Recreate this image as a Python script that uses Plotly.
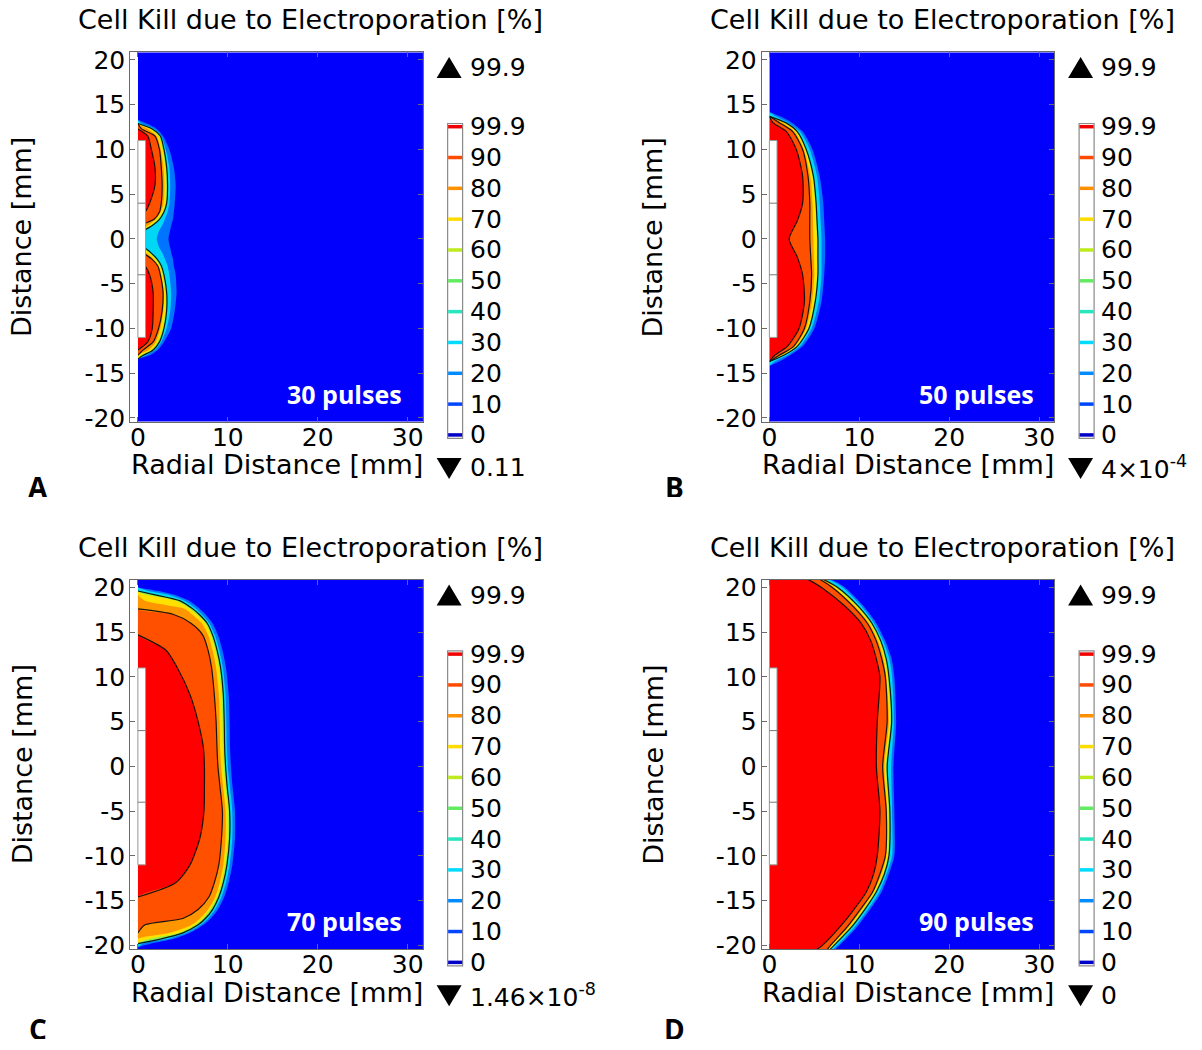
import plotly.graph_objects as go

W, H = 1202, 1050

# ---------------- data ----------------
LEVELS = [0, 10, 20, 30, 40, 50, 60, 70, 80, 90, 99.9]
LEVEL_LABELS = ["0", "10", "20", "30", "40", "50", "60", "70", "80", "90", "99.9"]
X_TICKS = [0, 10, 20, 30]
Y_TICKS = [-20, -15, -10, -5, 0, 5, 10, 15, 20]
Y_TICK_TEXT = ["-20", "-15", "-10", "-5", "0", "5", "10", "15", "20"]

PANEL_LETTERS = ["A", "B", "C", "D"]
PULSES = ["30 pulses", "50 pulses", "70 pulses", "90 pulses"]
MAX_LABELS = ["99.9", "99.9", "99.9", "99.9"]
MIN_LABELS = ["0.11", "4×10<sup>-4</sup>", "1.46×10<sup>-8</sup>", "0"]
TITLE = "Cell Kill due to Electroporation [%]"
X_TITLE = "Radial Distance [mm]"
Y_TITLE = "Distance [mm]"

ELECTRODE_R = 0.85      # mm
ELECTRODE_HALF = 11.0   # mm
ELECTRODE_JOINTS = [-4.0, 4.0]

# contour boundaries: radial position (mm) of each level vs axial distance z (mm)
A_z = [-13.4, -13.0, -12.4, -11.5, -10.0, -8.0, -6.0, -4.0, -3.0, -2.2, -1.5, -1.0, 0.0,
       1.0, 1.5, 2.2, 3.0, 4.0, 6.0, 8.0, 10.0, 11.5, 12.3, 12.9, 13.3]
A_r10 = [0.0, 1.3, 2.2, 2.9, 3.7, 4.1, 4.3, 4.2, 4.0, 3.9, 3.7, 3.6, 3.4,
         3.6, 3.7, 3.9, 4.0, 4.1, 4.2, 4.0, 3.5, 2.8, 2.1, 1.0, 0.0]
A_r30 = [0.0, 0.9, 1.9, 2.6, 3.2, 3.6, 3.7, 3.5, 3.3, 3.0, 2.7, 2.4, 2.1,
         2.4, 2.7, 3.0, 3.3, 3.5, 3.6, 3.5, 3.1, 2.6, 1.8, 0.4, 0.0]
A_r50 = [0.0, 0.6, 1.7, 2.4, 2.9, 3.2, 3.2, 2.9, 2.6, 2.1, 1.4, 0.8, 0.0,
         0.8, 1.6, 2.4, 2.9, 3.2, 3.3, 3.2, 2.9, 2.5, 1.6, 0.0, 0.0]
A_r70 = [0.0, 0.3, 1.5, 2.2, 2.75, 3.05, 3.05, 2.75, 2.45, 1.9, 1.2, 0.6, 0.0,
         0.6, 1.4, 2.2, 2.75, 3.05, 3.15, 3.05, 2.75, 2.3, 1.4, 0.0, 0.0]
A_r80 = [0.0, 0.0, 1.2, 2.0, 2.5, 2.85, 2.9, 2.6, 2.3, 1.7, 0.9, 0.3, 0.0,
         0.3, 1.1, 2.0, 2.55, 2.85, 2.95, 2.85, 2.55, 2.1, 1.1, 0.0, 0.0]
A_r90 = [0.0, 0.0, 0.6, 1.7, 2.3, 2.7, 2.8, 2.5, 2.2, 1.5, 0.5, 0.0, 0.0,
         0.0, 0.3, 1.8, 2.4, 2.6, 2.7, 2.6, 2.4, 1.9, 0.4, 0.0, 0.0]
A_r999 = [0.0, 0.0, 0.0, 1.1, 1.6, 1.7, 1.7, 1.3, 0.8, 0.0, 0.0, 0.0, 0.0,
          0.0, 0.0, 0.0, 0.8, 1.3, 1.9, 1.9, 1.5, 1.1, 0.0, 0.0, 0.0]

B_z = [-14.2, -13.7, -13.0, -12.0, -10.0, -7.0, -4.0, -2.0, 0.0, 2.0, 4.0, 7.0, 10.0, 12.0, 13.0, 13.7, 14.2]
B_r10 = [0.0, 1.1, 2.3, 3.7, 5.0, 5.8, 6.1, 6.2, 6.2, 6.1, 6.0, 5.6, 4.8, 3.7, 2.5, 1.2, 0.0]
B_r30 = [0.0, 0.6, 2.0, 3.4, 4.7, 5.5, 5.8, 5.8, 5.8, 5.7, 5.6, 5.3, 4.5, 3.4, 2.1, 0.7, 0.0]
B_r50 = [0.0, 0.0, 1.6, 3.1, 4.4, 5.1, 5.4, 5.4, 5.4, 5.3, 5.2, 4.9, 4.1, 3.1, 1.8, 0.0, 0.0]
B_r70 = [0.0, 0.0, 1.5, 3.0, 4.3, 5.0, 5.3, 5.3, 5.3, 5.2, 5.1, 4.8, 4.0, 3.0, 1.7, 0.0, 0.0]
B_r80 = [0.0, 0.0, 1.3, 2.85, 4.1, 4.75, 5.0, 4.95, 4.9, 4.85, 4.8, 4.55, 3.85, 2.8, 1.4, 0.0, 0.0]
B_r90 = [0.0, 0.0, 1.1, 2.7, 3.9, 4.5, 4.7, 4.6, 4.5, 4.5, 4.5, 4.3, 3.7, 2.6, 1.1, 0.0, 0.0]
B_r999 = [0.0, 0.0, 0.6, 2.0, 3.3, 3.9, 3.7, 3.1, 2.2, 3.1, 3.7, 3.7, 3.0, 1.9, 0.4, 0.0, 0.0]

C_z = [-20.2, -19.8, -19.3, -18.6, -17.7, -17.0, -16.0, -14.6, -13.0, -11.0, -8.0, -5.0, -2.0, 0.0,
       2.0, 5.0, 8.0, 11.0, 13.0, 14.7, 16.0, 17.0, 17.6, 18.5, 19.2, 19.6, 20.0]
C_r10 = [0.0, 1.5, 3.9, 5.8, 7.3, 8.1, 8.9, 9.6, 10.1, 10.5, 10.8, 10.8, 10.5, 10.35,
         10.25, 10.2, 10.1, 9.8, 9.4, 8.9, 8.3, 7.5, 6.9, 5.7, 4.0, 2.3, 0.0]
C_r30 = [0.0, 0.6, 3.3, 5.4, 7.0, 7.8, 8.6, 9.3, 9.8, 10.2, 10.5, 10.5, 10.2, 10.0,
         9.9, 9.85, 9.75, 9.45, 9.05, 8.55, 7.95, 7.1, 6.5, 5.2, 3.3, 1.2, 0.0]
C_r50 = [0.0, 0.0, 2.5, 5.0, 6.7, 7.5, 8.3, 9.0, 9.5, 9.9, 10.2, 10.2, 9.9, 9.75,
         9.65, 9.6, 9.5, 9.2, 8.8, 8.3, 7.7, 6.8, 6.1, 4.7, 1.8, 0.0, 0.0]
C_r70 = [0.0, 0.0, 1.2, 4.6, 6.4, 7.2, 8.0, 8.8, 9.3, 9.7, 10.0, 10.0, 9.7, 9.55,
         9.45, 9.4, 9.3, 9.0, 8.6, 8.1, 7.5, 6.5, 5.8, 4.2, 0.8, 0.0, 0.0]
C_r80 = [0.0, 0.0, 0.0, 3.6, 6.0, 6.9, 7.8, 8.6, 9.1, 9.5, 9.75, 9.75, 9.45, 9.25,
         9.15, 9.1, 9.0, 8.7, 8.3, 7.8, 7.1, 6.0, 5.2, 0.8, 0.0, 0.0, 0.0]
C_r90 = [0.0, 0.0, 0.0, 0.0, 0.8, 5.0, 6.7, 7.9, 8.5, 9.0, 9.3, 9.4, 9.1, 8.9,
         8.8, 8.7, 8.5, 8.2, 7.8, 7.2, 5.9, 3.9, 0.0, 0.0, 0.0, 0.0, 0.0]
C_r999 = [0.0, 0.0, 0.0, 0.0, 0.0, 0.0, 0.0, 0.0, 4.2, 5.8, 6.9, 7.35, 7.4, 7.4,
          7.3, 6.7, 5.8, 4.4, 3.1, 0.0, 0.0, 0.0, 0.0, 0.0, 0.0, 0.0, 0.0]

D_z = [-20.5, -20.0, -18.0, -16.0, -14.0, -12.0, -10.0, -5.0, 0.0, 5.0, 10.0, 12.0, 14.0, 16.0, 18.0, 20.0, 20.9]
D_r10 = [7.2, 7.8, 9.7, 11.2, 12.5, 13.3, 13.9, 13.9, 13.8, 14.1, 13.9, 13.6, 12.9, 11.9, 10.4, 8.4, 6.7]
D_r30 = [6.95, 7.55, 9.45, 10.95, 12.25, 13.05, 13.65, 13.65, 13.55, 13.85, 13.65, 13.35, 12.65, 11.65, 10.15, 8.15, 6.45]
D_r50 = [6.7, 7.2, 9.1, 10.6, 11.9, 12.8, 13.3, 13.4, 13.1, 13.6, 13.3, 13.0, 12.4, 11.4, 9.8, 7.6, 6.0]
D_r70 = [6.6, 7.05, 8.95, 10.45, 11.75, 12.65, 13.15, 13.25, 12.95, 13.45, 13.15, 12.85, 12.25, 11.25, 9.6, 7.4, 5.85]
D_r80 = [6.5, 6.9, 8.8, 10.3, 11.6, 12.5, 13.0, 13.1, 12.8, 13.3, 13.0, 12.7, 12.1, 11.1, 9.4, 7.2, 5.7]
D_r90 = [6.4, 6.8, 8.6, 10.1, 11.5, 12.3, 12.9, 13.0, 12.6, 13.1, 12.9, 12.5, 11.9, 10.9, 9.2, 7.0, 5.6]
D_r999 = [5.2, 5.9, 7.8, 9.4, 10.8, 11.6, 12.0, 12.3, 11.9, 12.0, 12.3, 11.9, 11.3, 10.2, 8.3, 5.8, 4.3]

PANEL_DATA = [
    (A_z, [A_r10, A_r30, A_r50, A_r70, A_r80, A_r90, A_r999]),
    (B_z, [B_r10, B_r30, B_r50, B_r70, B_r80, B_r90, B_r999]),
    (C_z, [C_r10, C_r30, C_r50, C_r70, C_r80, C_r90, C_r999]),
    (D_z, [D_r10, D_r30, D_r50, D_r70, D_r80, D_r90, D_r999]),
]

# ---------------- style ----------------
FONT = "DejaVu Sans"
BG_BLUE = "rgb(0,0,252)"
BAND_COLORS = ["rgb(0,115,255)", "rgb(0,215,245)", "rgb(150,240,70)", "rgb(255,225,0)",
               "rgb(255,150,0)", "rgb(255,80,0)", "rgb(255,0,0)"]
LINE_IDX = [2, 5, 6]  # black contour lines drawn on these boundaries
LEVEL_COLORS = ["rgb(0,0,200)", "rgb(0,70,255)", "rgb(0,140,255)", "rgb(0,220,255)",
                "rgb(40,230,190)", "rgb(100,235,100)", "rgb(190,235,30)", "rgb(255,220,0)",
                "rgb(255,145,0)", "rgb(255,75,0)", "rgb(240,0,0)"]
FRAME = "#6a6a6a"

XR = [-0.85, 31.7]
YR = [-20.4, 20.85]
SX, SY = 9.0, 8.95  # px per mm (target picture)
ORIGINS = [(138, 239), (770, 239), (138, 766.5), (770, 766.5)]
LETTER_POS = [(38, 487), (675, 487), (38, 1029), (675, 1029)]
# the captured page is vertically compressed slightly; pre-compensate
YOFF, YSCALE = 7.0, 0.983


def P(x):
    return x / W


def Q(y):
    return 1 - ((y - YOFF) / YSCALE) / H


fig = go.Figure()
shapes = []
annotations = []


def line_xy(z, r):
    xs, ys = [], []
    n = len(r)
    for i in range(n):
        keep = r[i] > 0 or (i > 0 and r[i - 1] > 0) or (i < n - 1 and r[i + 1] > 0)
        if keep:
            xs.append(r[i])
            ys.append(z[i])
        elif xs and xs[-1] is not None:
            xs.append(None)
            ys.append(None)
    return xs, ys


def ann(x, y, text, size, xanchor="center", family=FONT, color="black", angle=0, height=None):
    d = dict(x=P(x), y=Q(y), text=text, showarrow=False, textangle=angle,
             xref="paper", yref="paper", xanchor=xanchor, yanchor="middle",
             font=dict(family=family, size=size, color=color))
    if height is not None:
        d["height"] = height
    annotations.append(d)


for i, (z, bounds) in enumerate(PANEL_DATA):
    ox, oy = ORIGINS[i]
    dx, dy = ox - 138, oy - 239
    sfx = "" if i == 0 else str(i + 1)
    xa, ya = "x" + sfx, "y" + sfx

    fig.update_layout(**{
        "xaxis" + sfx: dict(
            domain=[P(ox + SX * XR[0]), P(ox + SX * XR[1])], range=XR, anchor=ya,
            tickvals=X_TICKS, ticktext=[str(v) for v in X_TICKS],
            ticks="inside", ticklen=5, tickcolor=FRAME, showline=True, mirror="ticks",
            linecolor=FRAME, linewidth=1, showgrid=False, zeroline=False, ticklabelstandoff=-7,
            tickfont=dict(family=FONT, size=25, color="black"), fixedrange=True),
        "yaxis" + sfx: dict(
            domain=[Q(oy - SY * YR[0]), Q(oy - SY * YR[1])], range=YR, anchor=xa,
            tickvals=Y_TICKS, ticktext=Y_TICK_TEXT,
            ticks="inside", ticklen=5, tickcolor=FRAME, showline=True, mirror="ticks",
            linecolor=FRAME, linewidth=1, showgrid=False, zeroline=False, ticklabelstandoff=-1,
            tickfont=dict(family=FONT, size=25, color="black"), fixedrange=True),
    })

    # background (values below 10 %)
    fig.add_trace(go.Scatter(x=[0, XR[1] + 1, XR[1] + 1, 0], y=[YR[0] - 1, YR[0] - 1, YR[1] + 1, YR[1] + 1],
                             fill="toself", fillcolor=BG_BLUE, line=dict(width=0), mode="lines",
                             xaxis=xa, yaxis=ya, hoverinfo="skip", showlegend=False))
    # filled bands
    for r, col in zip(bounds, BAND_COLORS):
        xs = [0] + list(r) + [0]
        ys = [z[0]] + list(z) + [z[-1]]
        fig.add_trace(go.Scatter(x=xs, y=ys, fill="toself", fillcolor=col, mode="lines",
                                 line=dict(width=0, shape="spline", smoothing=0.7),
                                 xaxis=xa, yaxis=ya, hoverinfo="skip", showlegend=False))
    # black contour lines
    for k in LINE_IDX:
        xs, ys = line_xy(z, bounds[k])
        fig.add_trace(go.Scatter(x=xs, y=ys, mode="lines",
                                 line=dict(color="rgba(15,15,15,0.95)", width=1.2, shape="spline", smoothing=0.7),
                                 xaxis=xa, yaxis=ya, hoverinfo="skip", showlegend=False))
    # white strip left of the symmetry axis
    fig.add_trace(go.Scatter(x=[XR[0] - 1, 0, 0, XR[0] - 1], y=[YR[0] - 1, YR[0] - 1, YR[1] + 1, YR[1] + 1],
                             fill="toself", fillcolor="white", mode="lines", line=dict(width=0),
                             xaxis=xa, yaxis=ya, hoverinfo="skip", showlegend=False))
    # electrode
    fig.add_trace(go.Scatter(x=[0, ELECTRODE_R, ELECTRODE_R, 0, 0],
                             y=[-ELECTRODE_HALF, -ELECTRODE_HALF, ELECTRODE_HALF, ELECTRODE_HALF, -ELECTRODE_HALF],
                             fill="toself", fillcolor="white", mode="lines",
                             line=dict(color="#9a9a9a", width=1),
                             xaxis=xa, yaxis=ya, hoverinfo="skip", showlegend=False))
    jx, jy = [], []
    for zj in ELECTRODE_JOINTS:
        jx += [0, ELECTRODE_R, None]
        jy += [zj, zj, None]
    fig.add_trace(go.Scatter(x=jx, y=jy, mode="lines", line=dict(color="#777777", width=1),
                             xaxis=xa, yaxis=ya, hoverinfo="skip", showlegend=False))

    # texts
    ann(311 + dx, 20 + dy, TITLE, 27)
    ann(277 + dx, 465 + dy, X_TITLE, 27)
    ann(22 + dx, 237 + dy, Y_TITLE, 27, angle=-90)
    ann(345 + dx, 394 + dy, "<b>" + PULSES[i] + "</b>", 25, family="Open Sans", color="white")
    lx, ly = LETTER_POS[i]
    ann(lx, ly, "<b>" + PANEL_LETTERS[i] + "</b>", 28, family="Open Sans", height=20)

    # level legend box
    bx0, bx1 = 448 + dx, 463 + dx
    by0, by1 = 123.5 + dy, 438.5 + dy
    shapes.append(dict(type="rect", xref="paper", yref="paper", x0=P(bx0), x1=P(bx1), y0=Q(by1), y1=Q(by0),
                       fillcolor="white", line=dict(color="#8a8a8a", width=1.2), layer="above"))
    n = len(LEVELS)
    for k in range(n):
        yk = 435 + dy - k * (435 - 126.7) / (n - 1)
        shapes.append(dict(type="line", xref="paper", yref="paper", x0=P(bx0 + 0.5), x1=P(bx1 - 0.5),
                           y0=Q(yk), y1=Q(yk), line=dict(color=LEVEL_COLORS[k], width=3.5), layer="above"))
        ann(468 + dx, yk, LEVEL_LABELS[k], 25, xanchor="left")
    # max / min triangles
    shapes.append(dict(type="path", xref="paper", yref="paper",
                       path=f"M {P(437 + dx)} {Q(78 + dy)} L {P(462 + dx)} {Q(78 + dy)} L {P(449.5 + dx)} {Q(57 + dy)} Z",
                       fillcolor="black", line=dict(width=0), layer="above"))
    shapes.append(dict(type="path", xref="paper", yref="paper",
                       path=f"M {P(437 + dx)} {Q(458 + dy)} L {P(462 + dx)} {Q(458 + dy)} L {P(449.5 + dx)} {Q(479 + dy)} Z",
                       fillcolor="black", line=dict(width=0), layer="above"))
    ann(468 + dx, 68 + dy, MAX_LABELS[i], 25, xanchor="left")
    ann(468 + dx, 468 + dy, MIN_LABELS[i], 25, xanchor="left")

fig.update_layout(width=W, height=H, autosize=False, margin=dict(l=0, r=0, t=0, b=0),
                  paper_bgcolor="white", plot_bgcolor="white", showlegend=False,
                  shapes=shapes, annotations=annotations, hovermode=False)

fig.write_html("out.html", config={"displayModeBar": False, "staticPlot": True},
               post_script="document.body.style.margin='0px';document.body.style.overflow='hidden';")
